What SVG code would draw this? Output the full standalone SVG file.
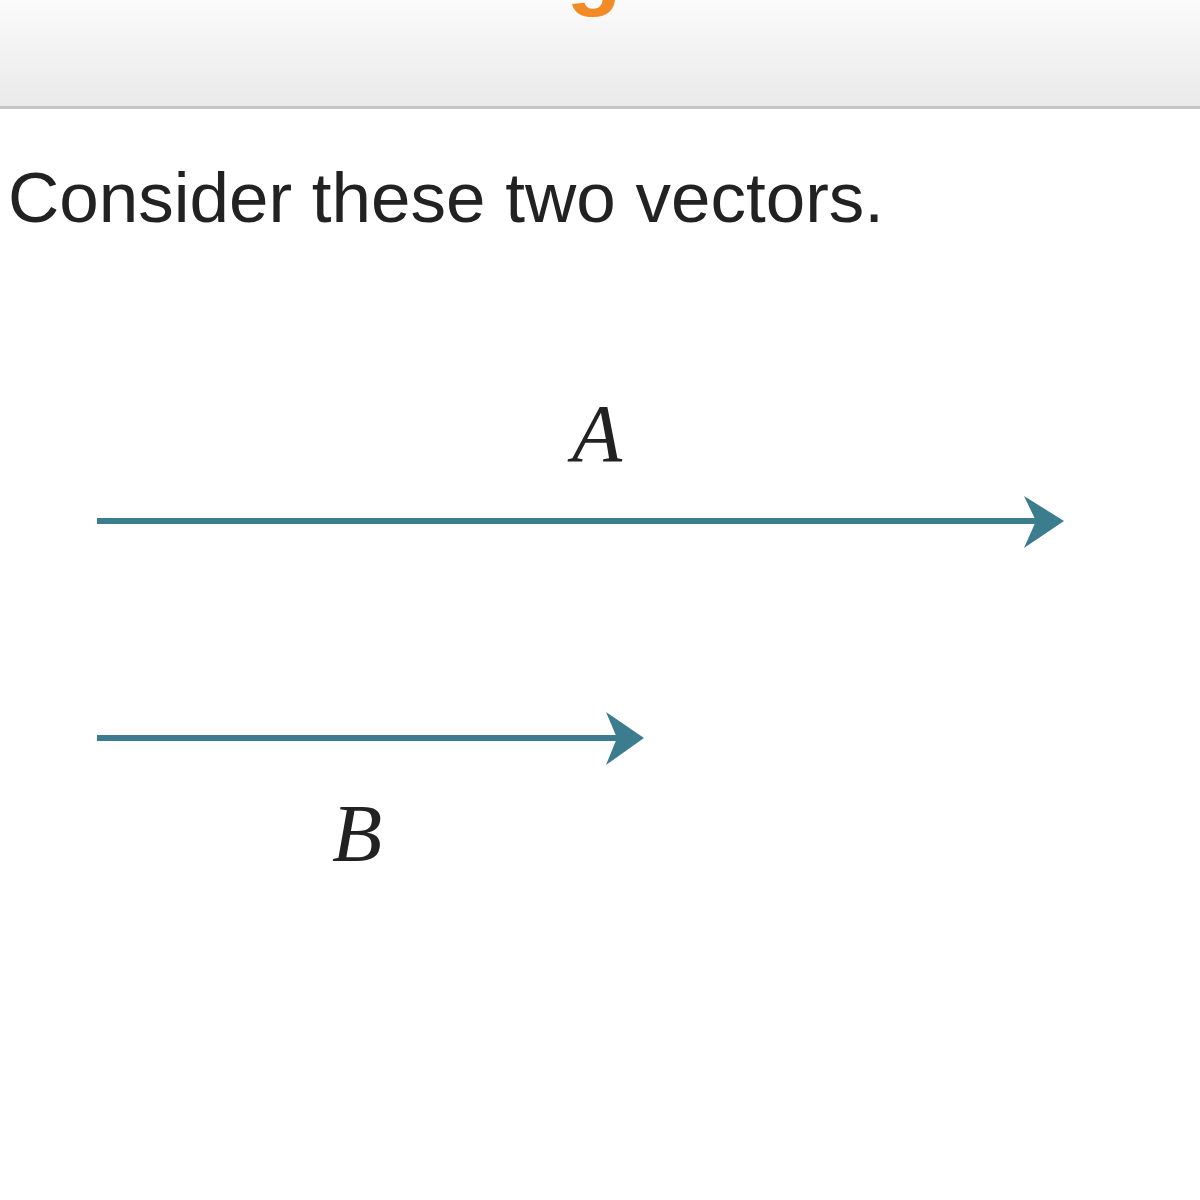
<svg xmlns="http://www.w3.org/2000/svg" width="1200" height="1200" viewBox="0 0 1200 1200">
  <defs>
    <linearGradient id="hdr" x1="0" y1="0" x2="0" y2="1">
      <stop offset="0" stop-color="#fbfbfb"/>
      <stop offset="1" stop-color="#e9e9e9"/>
    </linearGradient>
    <style>
      .vec { stroke: #3b7d8e; stroke-width: 6; fill: none; }
      .head { fill: #3b7d8e; }
      .lbl { font-family: "Liberation Serif", "DejaVu Serif", serif; font-style: italic; font-size: 82px; fill: #222; }
    </style>
  </defs>
  <rect width="1200" height="1200" fill="#ffffff"/>
  <g id="header">
    <rect x="0" y="0" width="1200" height="107" fill="url(#hdr)"/>
    <rect x="0" y="106" width="1200" height="3" fill="#c4c4c4"/>
    <text x="594" y="-2" text-anchor="middle" font-family="Liberation Sans, Arial, sans-serif" font-weight="bold" font-size="90" fill="#f28a26">g</text>
  </g>
  <text x="8" y="222" font-family="Liberation Sans, Arial, sans-serif" font-size="71" fill="#222222">Consider these two vectors.</text>
  <g id="connectors">
    <g id="vectorA">
      <line class="vec" x1="97" y1="521" x2="1045" y2="521"/>
      <path class="head" d="M1064 521 L1024 496 L1036 521 L1024 548 Z"/>
    </g>
    <g id="vectorB">
      <line class="vec" x1="97" y1="738" x2="625" y2="738"/>
      <path class="head" d="M644 738 L606 712 L617 738 L606 765 Z"/>
    </g>
  </g>
  <g id="labelA"><text class="lbl" x="572" y="461">A</text></g>
  <g id="labelB"><text class="lbl" x="332" y="861">B</text></g>
</svg>
